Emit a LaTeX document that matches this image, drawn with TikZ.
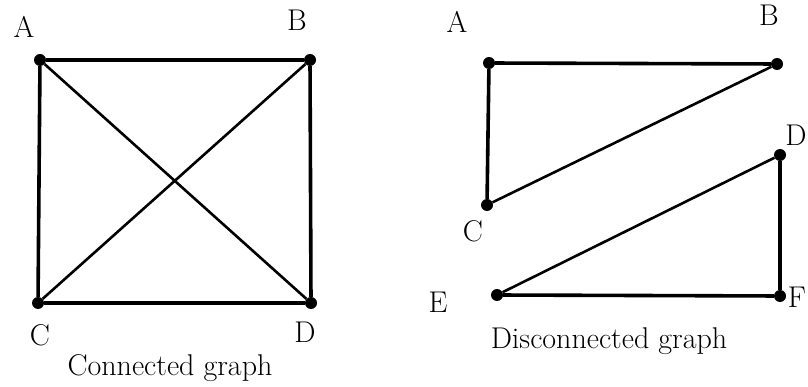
\documentclass[tikz,border=0pt]{standalone}
\begin{document}
\begin{tikzpicture}[x=1pt,y=-1pt,
  vtx/.style={circle,fill=black,inner sep=0pt,minimum size=12pt},
  lbl/.style={font=\fontsize{30}{32}\selectfont,inner sep=0pt},
  captext/.style={font=\fontsize{30}{32}\selectfont,inner sep=0pt},
  side/.style={line width=3.6pt},
  diag/.style={line width=2.6pt}]
\useasboundingbox (0,0) rectangle (808,387);
% left graph
\node[vtx] (lA) at (40,60) {};
\node[vtx] (lB) at (310,60) {};
\node[vtx] (lC) at (38,303) {};
\node[vtx] (lD) at (311,303) {};
\node[lbl] (tlA) at (24,27) {A};
\node[lbl] (tlB) at (297,20) {B};
\node[lbl] (tlC) at (40,335) {C};
\node[lbl] (tlD) at (305,332) {D};
\node[captext] (capL) at (170,368) {Connected graph};
\draw[side] (lA) -- (lB) -- (lD) -- (lC) -- (lA);
\draw[diag] (lA) -- (lD);
\draw[diag] (lB) -- (lC);
% right graph
\node[vtx] (rA) at (489,63) {};
\node[vtx] (rB) at (777,64) {};
\node[vtx] (rC) at (487,205) {};
\node[vtx] (rD) at (780,155) {};
\node[vtx] (rE) at (497,295) {};
\node[vtx] (rF) at (780,296) {};
\node[lbl] (trA) at (457,22) {A};
\node[lbl] (trB) at (769,15) {B};
\node[lbl] (trC) at (473,231) {C};
\node[lbl] (trD) at (796,135) {D};
\node[lbl] (trE) at (438,302) {E};
\node[lbl] (trF) at (797,297) {F};
\node[captext] (capR) at (609,341) {Disconnected graph};
\draw[side] (rA) -- (rB);
\draw[side] (rA) -- (rC);
\draw[diag] (rC) -- (rB);
\draw[side] (rD) -- (rF) -- (rE);
\draw[diag] (rE) -- (rD);
\end{tikzpicture}
\end{document}
